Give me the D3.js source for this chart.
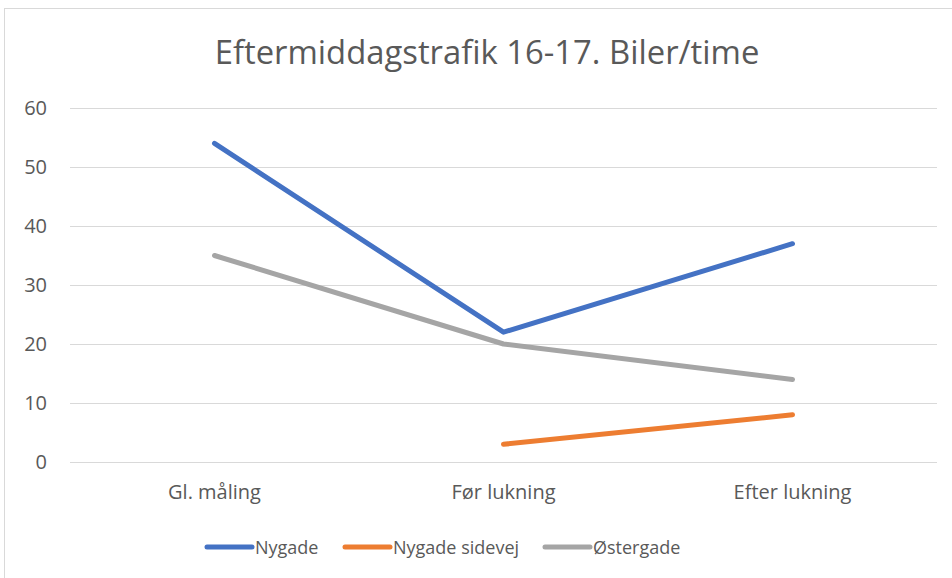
<!DOCTYPE html>
<html><head><meta charset="utf-8">
<script src="https://cdn.jsdelivr.net/npm/d3@7"></script>
<style>body{margin:0;background:#fff;} text{font-family:"Open Sans","Liberation Sans",sans-serif;fill:#595959;}</style>
</head><body>
<svg id="c" width="952" height="578"></svg>
<script>
const categories = ["Gl. måling", "Før lukning", "Efter lukning"];
const seriesNames = ["Nygade", "Nygade sidevej", "Østergade"];
const nygade = [54, 22, 37];
const nygadeSidevej = [null, 3, 8];
const oestergade = [35, 20, 14];
const yTicks = [0, 10, 20, 30, 40, 50, 60];
const colors = ["#4472C4", "#ED7D31", "#A5A5A5"];
const title = "Eftermiddagstrafik 16-17. Biler/time";

const series = [nygade, nygadeSidevej, oestergade].map((v, i) => ({name: seriesNames[i], values: v, color: colors[i]}));

const svg = d3.select("#c");
svg.append("rect").attr("x", 4.5).attr("y", 8.5).attr("width", 960).attr("height", 600)
  .attr("fill", "#fff").attr("stroke", "#D9D9D9").attr("stroke-width", 1);

const pLeft = 70, pRight = 937, pTop = 108, pBottom = 462;
const x = d3.scaleBand().domain(categories).range([pLeft, pRight]);
const y = d3.scaleLinear().domain([0, 60]).range([pBottom, pTop]);

// gridlines
const yAxis = d3.axisLeft(y).tickValues(yTicks).tickSize(-(pRight - pLeft)).tickPadding(23);
const gy = svg.append("g").attr("transform", `translate(${pLeft},0)`).call(yAxis);
gy.select(".domain").remove();
gy.selectAll("line").attr("stroke", "#D9D9D9").attr("stroke-width", 1);
gy.selectAll("text").attr("font-size", 20).style("fill", "#595959");

// x axis labels
const xAxis = d3.axisBottom(x).tickSize(0).tickPadding(23);
const gx = svg.append("g").attr("transform", `translate(0,${pBottom})`).call(xAxis);
gx.select(".domain").remove();
gx.selectAll("text").attr("font-size", 20).style("fill", "#595959");

const line = d3.line()
  .defined(d => d.v != null)
  .x(d => x(d.c) + x.bandwidth() / 2)
  .y(d => y(d.v));

series.forEach(s => {
  svg.append("path")
    .datum(s.values.map((v, i) => ({c: categories[i], v})))
    .attr("d", line)
    .attr("fill", "none")
    .attr("stroke", s.color)
    .attr("stroke-width", 5)
    .attr("stroke-linecap", "round")
    .attr("stroke-linejoin", "round");
});

// title
const t = svg.append("text").attr("x", 487).attr("y", 64).attr("text-anchor", "middle")
  .attr("font-size", 30).style("fill", "#595959").text(title);
const tw = t.node().getComputedTextLength();
t.attr("font-size", 30 * 545 / tw);

// legend
const legendX = [205, 343, 543];
series.forEach((s, i) => {
  const g = svg.append("g").attr("transform", `translate(${legendX[i]},547)`);
  g.append("line").attr("x1", 2).attr("x2", 47).attr("stroke", s.color).attr("stroke-width", 5).attr("stroke-linecap", "round");
  g.append("text").attr("x", 50).attr("y", 7).attr("font-size", 18).style("fill", "#595959").text(s.name);
});
</script>
</body></html>
